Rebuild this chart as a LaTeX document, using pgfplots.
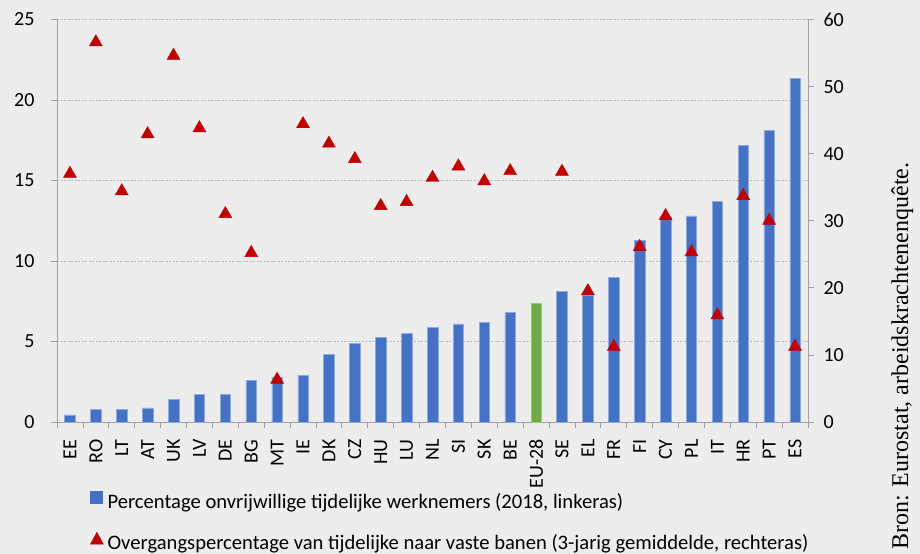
\documentclass[border=0pt]{standalone}
\usepackage{pgfplots}
\pgfplotsset{compat=1.18}
\usepackage{pgfplotstable}
\usepackage{fontspec}
\setmainfont{Carlito}
\newfontfamily\srcfont{Liberation Serif}

\definecolor{bgc}{RGB}{237,237,237}
\definecolor{barblue}{RGB}{68,114,196}
\definecolor{baredge}{RGB}{143,170,220}
\definecolor{eugreen}{RGB}{112,173,71}
\definecolor{trired}{RGB}{192,0,0}
\definecolor{axgray}{RGB}{160,160,160}
\definecolor{gridgray}{RGB}{185,185,185}

% involuntary temporary employees (left axis), EU-28 plotted separately
\pgfplotstableread{
idx val
0 0.45
1 0.8
2 0.8
3 0.87
4 1.4
5 1.7
6 1.7
7 2.6
8 2.75
9 2.9
10 4.2
11 4.9
12 5.25
13 5.5
14 5.9
15 6.1
16 6.2
17 6.8
19 8.1
20 7.9
21 9.0
22 11.3
23 12.7
24 12.8
25 13.7
26 17.2
27 18.1
28 21.35
}\bars

% transition rate temporary -> permanent (right axis)
\pgfplotstableread{
idx val
0 37.3
1 56.9
2 34.7
3 43.2
4 54.9
5 44.1
6 31.3
7 25.5
8 6.6
9 44.7
10 41.8
11 39.5
12 32.5
13 33.1
14 36.7
15 38.4
16 36.2
17 37.7
19 37.6
20 19.8
21 11.5
22 26.4
23 31.0
24 25.6
25 16.2
26 34.0
27 30.3
28 11.5
}\rates

\pgfplotsset{
  base/.style={
    scale only axis, width=751bp, height=402.5bp,
    at={(0,0)}, anchor=south west,
    xmin=-0.5, xmax=28.5, enlargelimits=false,
    font=\fontsize{20bp}{24bp}\selectfont,
    /pgf/number format/assume math mode=true,
    axis line style={draw=axgray, line width=0.75bp},
    tick align=outside,
    major tick length=6bp, minor tick length=6bp,
    ytick style={draw=axgray, line width=0.75bp},
  },
}

\begin{document}
\begin{tikzpicture}
\fill[bgc] (-57bp,-132bp) rectangle (863bp,422bp);
\useasboundingbox (-57bp,-132bp) rectangle (863bp,422bp);

\begin{axis}[base,
  ymin=0, ymax=25, ytick={0,5,...,25},
  axis x line*=bottom, axis y line*=left,
  ymajorgrids,
  grid style={gridgray, dash pattern=on 2bp off 1.5bp, line width=0.75bp},
  xtick={0,...,28},
  xticklabels={EE,RO,LT,AT,UK,LV,DE,BG,MT,IE,DK,CZ,HU,LU,NL,SI,SK,BE,EU-28,SE,EL,FR,FI,CY,PL,IT,HR,PT,ES},
  major x tick style={draw=none},
  minor xtick={-0.5,0.5,...,28.5},
  minor x tick style={draw=axgray, line width=0.75bp},
  xticklabel style={rotate=90, anchor=east},
  xticklabel shift=8bp,
  yticklabel shift=13bp,
  ybar, bar width=10.5bp, bar shift=0pt,
]
  \addplot[fill=barblue, draw=baredge, line width=0.5bp] table[x=idx, y=val] {\bars};
  \addplot[fill=eugreen, draw=eugreen!70!white, line width=0.5bp] coordinates {(18,7.4)};
\end{axis}

\begin{axis}[base,
  ymin=0, ymax=60, ytick={0,10,...,60},
  axis y line*=right, axis x line=none,
  yticklabel shift=6bp,
  legend cell align=left,
  legend style={at={(0,0)}, anchor=north west, xshift=33bp, yshift=-69bp,
    draw=none, fill=none, inner sep=0pt, row sep=19.6bp, column sep=4bp,
    font=\fontsize{20.6bp}{24bp}\selectfont,
    nodes={inner sep=0pt, text height=14bp, text depth=4bp}},
]
  \addlegendimage{legend image code/.code={\fill[barblue] (0bp,0bp) rectangle (12bp,12bp);}}
  \addlegendentry{Percentage onvrijwillige tijdelijke werknemers (2018, linkeras)}
  \addplot[only marks, mark=triangle*, mark size=7.5bp, color=trired,
    every mark/.append style={yshift=-1.9bp},
    legend image code/.code={\fill[trired] (0bp,0bp) -- (13bp,0bp) -- (6.5bp,12bp) -- cycle;}]
    table[x=idx, y=val] {\rates};
  \addlegendentry{Overgangspercentage van tijdelijke naar vaste banen (3-jarig gemiddelde, rechteras)}
\end{axis}

\node[rotate=90, anchor=base west, inner sep=0pt, font=\srcfont\fontsize{24bp}{28bp}\selectfont]
  at (851bp,-128bp) {Bron: Eurostat, arbeidskrachtenenquête.};
\end{tikzpicture}
\end{document}
